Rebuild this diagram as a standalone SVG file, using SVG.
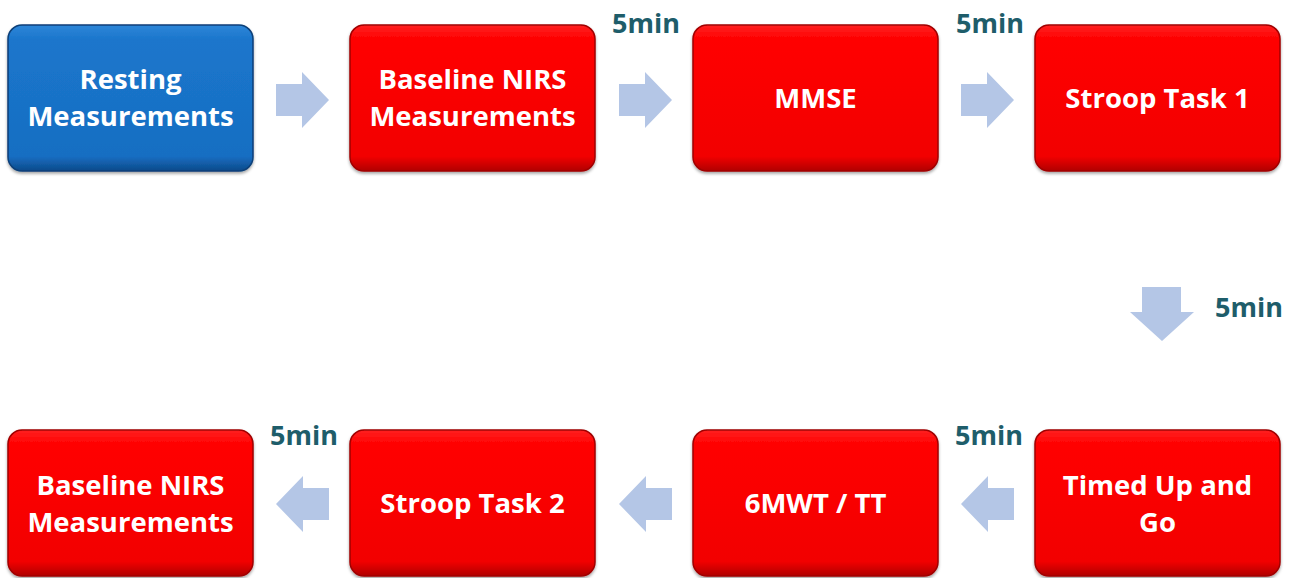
<svg xmlns="http://www.w3.org/2000/svg" width="1299" height="578" viewBox="0 0 1299 578">
<defs>
<linearGradient id="gr" x1="0" y1="0" x2="0" y2="1">
<stop offset="0" stop-color="#ff2020"/><stop offset="0.1" stop-color="#ff0000"/><stop offset="0.9" stop-color="#f20000"/><stop offset="1" stop-color="#b00000"/>
</linearGradient>
<linearGradient id="gb" x1="0" y1="0" x2="0" y2="1">
<stop offset="0" stop-color="#2e86d8"/><stop offset="0.1" stop-color="#1b76cc"/><stop offset="0.9" stop-color="#176ec2"/><stop offset="1" stop-color="#0d4a8a"/>
</linearGradient>
<filter id="sh" x="-5%" y="-5%" width="110%" height="115%"><feDropShadow dx="0" dy="2" stdDeviation="1.5" flood-color="#000" flood-opacity="0.35"/></filter>
</defs>
<style>
.red{fill:url(#gr);stroke:#a00000;stroke-width:1.5;filter:url(#sh)}
.blue{fill:url(#gb);stroke:#0a3f78;stroke-width:1.5;filter:url(#sh)}
.t{font-family:"Open Sans","Liberation Sans",sans-serif;font-weight:bold;font-size:27.5px;fill:#fff;text-anchor:middle}
.m{font-family:"Open Sans","Liberation Sans",sans-serif;font-weight:bold;font-size:27px;fill:#1e5d6a}
.ar{fill:#b4c6e6}
</style>
<g id="n1"><rect class="blue" x="8" y="25" width="245" height="146" rx="14"/><text class="t" x="130.5" y="89">Resting</text><text class="t" x="130.5" y="126">Measurements</text></g>
<g id="n2"><rect class="red" x="350" y="25" width="245" height="146" rx="14"/><text class="t" x="472.5" y="89">Baseline NIRS</text><text class="t" x="472.5" y="126">Measurements</text></g>
<g id="n3"><rect class="red" x="693" y="25" width="245" height="146" rx="14"/><text class="t" x="815.5" y="108">MMSE</text></g>
<g id="n4"><rect class="red" x="1035" y="25" width="245" height="146" rx="14"/><text class="t" x="1157.5" y="108">Stroop Task 1</text></g>
<g id="n5"><rect class="red" x="1035" y="430" width="245" height="146" rx="14"/><text class="t" x="1157.5" y="495">Timed Up and</text><text class="t" x="1157.5" y="532">Go</text></g>
<g id="n6"><rect class="red" x="693" y="430" width="245" height="146" rx="14"/><text class="t" x="815.5" y="513">6MWT / TT</text></g>
<g id="n7"><rect class="red" x="350" y="430" width="245" height="146" rx="14"/><text class="t" x="472.5" y="513">Stroop Task 2</text></g>
<g id="n8"><rect class="red" x="8" y="430" width="245" height="146" rx="14"/><text class="t" x="130.5" y="495">Baseline NIRS</text><text class="t" x="130.5" y="532">Measurements</text></g>
<g id="connectors">
<polygon class="ar" points="276,84 302,84 302,72 329,100 302,128 302,116 276,116"/>
<polygon class="ar" points="619,84 645,84 645,72 672,100 645,128 645,116 619,116"/>
<polygon class="ar" points="961,84 987,84 987,72 1014,100 987,128 987,116 961,116"/>
<polygon class="ar" points="1142,287 1181,287 1181,312 1194,312 1162,341 1130,312 1142,312"/>
<polygon class="ar" points="1014,488 988,488 988,476 961,504 988,532 988,520 1014,520"/>
<polygon class="ar" points="672,488 646,488 646,476 619,504 646,532 646,520 672,520"/>
<polygon class="ar" points="329,488 303,488 303,476 276,504 303,532 303,520 329,520"/>
<text class="m" x="612" y="33">5min</text>
<text class="m" x="956" y="33">5min</text>
<text class="m" x="1215" y="317">5min</text>
<text class="m" x="955" y="445">5min</text>
<text class="m" x="270" y="445">5min</text>
</g>
</svg>
